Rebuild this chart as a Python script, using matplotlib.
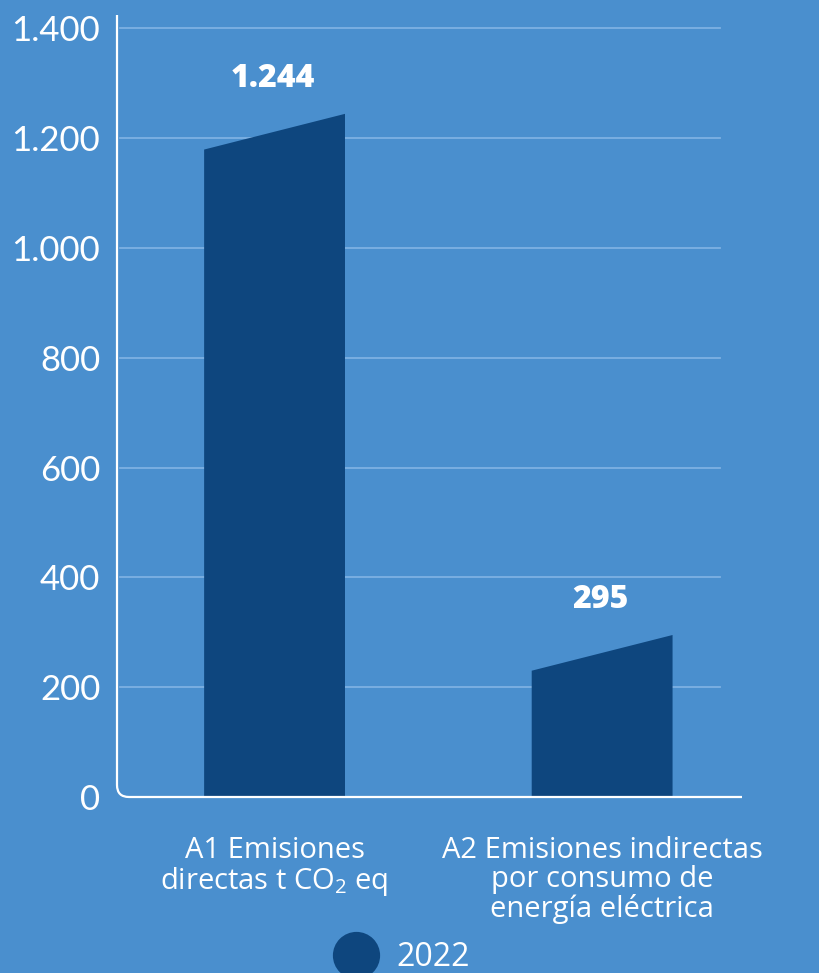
import matplotlib
matplotlib.use("Agg")
import matplotlib.pyplot as plt
from matplotlib.patches import Polygon
from matplotlib.path import Path
from matplotlib.patches import PathPatch
from matplotlib.lines import Line2D
from matplotlib.ticker import FuncFormatter

# datos
categorias = ["A1 Emisiones\ndirectas t CO$_\\mathregular{2}$ eq",
              "A2 Emisiones indirectas\npor consumo de\nenergía eléctrica"]
valores = [1244, 295]
etiquetas = ["1.244", "295"]
serie = "2022"
yticks = [0, 200, 400, 600, 800, 1000, 1200, 1400]

fondo = "#4a8fce"
azul_barra = "#0e467e"
linea_grid = "#7eb1e2"

plt.rcParams['font.family'] = ['Lato', 'DejaVu Sans']

fig = plt.figure(figsize=(8.2, 9.73), dpi=100, facecolor=fondo)
ax = fig.add_axes([117/820, 176/973, 625/820, 782/973])
ax.set_facecolor(fondo)

ancho = 0.43
inclinacion = 65  # caida del borde superior izquierdo
for i, v in enumerate(valores):
	x0 = i - ancho/2
	x1 = i + ancho/2
	poly = Polygon([(x0, 0), (x1, 0), (x1, v), (x0, v - inclinacion)],
	               closed=True, facecolor=azul_barra, edgecolor='none', zorder=3)
	ax.add_patch(poly)
	ax.annotate(etiquetas[i], xy=(i, v), xytext=(-1, 25), textcoords='offset points',
	            ha='center', va='center', color='white', fontsize=23,
	            fontweight='heavy', family=['Open Sans', 'DejaVu Sans'])

ax.set_xlim(-0.481, 1.427)
ax.set_ylim(0, 1424)

for y in yticks[1:]:
	ax.axhline(y, xmin=0.005, xmax=0.965, color=linea_grid, lw=1.3, zorder=1)

for s in ax.spines.values():
	s.set_visible(False)

# ejes con esquina redondeada
rx = 12/625
ry = 12/782
verts = [(0, 1), (0, ry), (0, 0), (rx, 0), (1, 0)]
codes = [Path.MOVETO, Path.LINETO, Path.CURVE3, Path.CURVE3, Path.LINETO]
ax.add_patch(PathPatch(Path(verts, codes), transform=ax.transAxes, facecolor='none',
                       edgecolor='white', lw=1.6, clip_on=False, zorder=4))

ax.set_yticks(yticks)
ax.yaxis.set_major_formatter(FuncFormatter(lambda v, p: f"{v:,.0f}".replace(",", ".")))
ax.tick_params(axis='y', length=0, pad=12, labelsize=25, labelcolor='white')
ax.set_xticks(range(len(categorias)))
ax.set_xticklabels(categorias, fontsize=21, color='white', linespacing=1.0, va='top',
                   family=['Open Sans', 'DejaVu Sans'])
ax.tick_params(axis='x', length=0, pad=28)

h = Line2D([], [], marker='o', linestyle='none', markersize=34, markerfacecolor=azul_barra,
           markeredgecolor='none')
fig.legend([h], [serie], loc='center', bbox_to_anchor=(0.484, 0.016), frameon=False,
           handletextpad=0.25, markerscale=1,
           labelcolor='white', prop={'family': ['Open Sans', 'DejaVu Sans'], 'size': 23})

fig.savefig("out.png", dpi=100, facecolor=fondo)
